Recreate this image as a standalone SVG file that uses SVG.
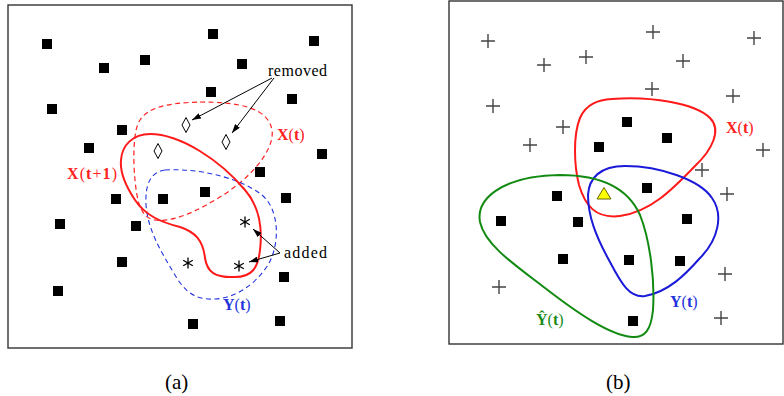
<svg xmlns="http://www.w3.org/2000/svg" width="784" height="396" viewBox="0 0 784 396">
<style>
.frame{fill:#fff;stroke:#333;stroke-width:1.4}
.sq{fill:#000}
.dia{fill:#fff;stroke:#000;stroke-width:1}
.ast{stroke:#000;stroke-width:1.3;fill:none}
.plus{stroke:#444;stroke-width:1.4;fill:none}
.arr{stroke:#000;stroke-width:1;fill:none;marker-end:url(#ah)}
.lbl{font-family:"Liberation Serif",serif;font-size:16px}
.b{font-weight:bold}
.txt{font-family:"Liberation Serif",serif;font-size:16px;fill:#000}
.cap{font-family:"Liberation Serif",serif;font-size:21px;fill:#000}
</style>
<defs>
<marker id="ah" markerWidth="9" markerHeight="6" refX="9" refY="3" orient="auto" markerUnits="userSpaceOnUse"><path d="M0,0 L9,3 L0,6 z" fill="#000"/></marker>
<rect id="s" x="-5" y="-5" width="10" height="10"/>
<path id="p" d="M-7,0 H7 M0,-7 V7"/>
<path id="a" d="M0,-5.5 V5.5 M-4.8,-2.75 L4.8,2.75 M-4.8,2.75 L4.8,-2.75"/>
</defs>
<rect class="frame" x="8" y="5" width="344" height="343"/>
<rect class="frame" x="449" y="1" width="334" height="343"/>
<g id="left-points" class="sq">
<use href="#s" x="47" y="44"/><use href="#s" x="104" y="68"/><use href="#s" x="145" y="60"/>
<use href="#s" x="213" y="34"/><use href="#s" x="314" y="41"/><use href="#s" x="242" y="64"/>
<use href="#s" x="52" y="109"/><use href="#s" x="211" y="92"/><use href="#s" x="292" y="99"/>
<use href="#s" x="122" y="130"/><use href="#s" x="89" y="148"/><use href="#s" x="322" y="154"/>
<use href="#s" x="260" y="172"/><use href="#s" x="116" y="199"/><use href="#s" x="163" y="199"/>
<use href="#s" x="205" y="192"/><use href="#s" x="286" y="198"/><use href="#s" x="60" y="224"/>
<use href="#s" x="136" y="226"/><use href="#s" x="122" y="262"/><use href="#s" x="58" y="291"/>
<use href="#s" x="284" y="277"/><use href="#s" x="193" y="324"/><use href="#s" x="280" y="321"/>
</g>
<g id="removed-points">
<polygon class="dia" points="186,117.5 190,125 186,132.5 182,125"/>
<polygon class="dia" points="226,134.5 230,142 226,149.5 222,142"/>
<polygon class="dia" points="158,143.5 162,151 158,158.5 154,151"/>
</g>
<g id="added-points" class="ast">
<use href="#a" x="245" y="222"/><use href="#a" x="188" y="263"/><use href="#a" x="239" y="266"/>
</g>
<g id="sets-left" fill="none">
<path id="Xt" d="M200,102 C240,102 268,108 272,130 C275,150 250,180 215,200 C190,215 170,222 155,220 C140,218 137,200 135,180 C133,160 133,130 140,120 C148,108 165,103 200,102 Z" stroke="#ff2020" stroke-width="1.2" stroke-dasharray="5,3.5"/>
<path id="Yt" d="M165,170 C200,168 240,178 262,195 C280,210 280,245 268,265 C255,285 235,298 215,299 C195,300 185,292 175,275 C160,250 148,230 146,205 C145,185 150,172 165,170 Z" stroke="#2233dd" stroke-width="1.1" stroke-dasharray="5,3.5"/>
<path id="Xt1" d="M150,134 C180,134 220,160 245,190 C258,205 263,225 260,250 C258,268 252,277 235,277 C215,278 207,272 205,258 C203,240 195,232 180,227 C160,222 145,215 135,200 C125,185 120,170 121,160 C122,145 133,134 150,134 Z" stroke="#ff1a1a" stroke-width="2"/>
</g>
<g id="connectors">
<line class="arr" x1="272" y1="78" x2="192" y2="120"/>
<line class="arr" x1="274" y1="78" x2="232" y2="133"/>
<line class="arr" x1="280" y1="253" x2="253" y2="229"/>
<line class="arr" x1="280" y1="253" x2="249" y2="262"/>
</g>
<g id="labels-left">
<text class="txt" x="268" y="76" textLength="59">removed</text>
<text class="txt" x="284" y="258" textLength="43">added</text>
<text class="lbl" x="277" y="140" fill="#ff2020"><tspan class="b">X</tspan>(<tspan class="b">t</tspan>)</text>
<text class="lbl" x="67" y="179" fill="#ff2020" textLength="50"><tspan class="b">X</tspan>(<tspan class="b">t</tspan>+<tspan class="b">1</tspan>)</text>
<text class="lbl" x="223" y="310" fill="#2233dd"><tspan class="b">Y</tspan>(<tspan class="b">t</tspan>)</text>
</g>
<g id="right-plus" class="plus">
<use href="#p" x="488" y="41"/><use href="#p" x="544" y="65"/><use href="#p" x="586" y="57"/>
<use href="#p" x="493" y="106"/><use href="#p" x="563" y="127"/><use href="#p" x="530" y="145"/>
<use href="#p" x="653" y="32"/><use href="#p" x="754" y="38"/><use href="#p" x="683" y="61"/>
<use href="#p" x="652" y="89"/><use href="#p" x="733" y="96"/><use href="#p" x="763" y="150"/>
<use href="#p" x="702" y="170"/><use href="#p" x="727" y="194"/><use href="#p" x="725" y="274"/>
<use href="#p" x="721" y="318"/><use href="#p" x="499" y="287"/>
</g>
<g id="right-points" class="sq">
<use href="#s" x="599" y="147"/><use href="#s" x="627" y="122"/><use href="#s" x="667" y="138"/>
<use href="#s" x="647" y="188"/><use href="#s" x="557" y="196"/><use href="#s" x="501" y="221"/>
<use href="#s" x="578" y="222"/><use href="#s" x="687" y="219"/><use href="#s" x="563" y="259"/>
<use href="#s" x="629" y="260"/><use href="#s" x="680" y="261"/><use href="#s" x="633" y="321"/>
</g>
<g id="sets-right" fill="none" stroke-width="2">
<path id="Xr" d="M612,99 C650,96 695,103 710,118 C722,130 712,150 695,166 C672,190 650,212 620,216 C595,219 585,205 579,185 C574,165 573,135 580,118 C586,104 598,100 612,99 Z" stroke="#ff1a1a"/>
<path id="Yr" d="M625,166 C660,166 700,180 712,198 C724,215 718,240 700,258 C685,275 668,292 645,296 C630,298 622,285 610,262 C595,235 588,215 588,195 C589,178 600,166 625,166 Z" stroke="#1a1ad8"/>
<path id="Yh" d="M560,175 C600,175 628,188 640,215 C650,240 655,280 653,310 C651,330 645,338 632,337 C610,335 580,315 545,288 C515,265 485,245 480,222 C476,200 500,176 560,175 Z" stroke="#128a12"/>
</g>
<g id="query">
<polygon points="604,187.5 611,199 597,199" fill="#ffff00" stroke="#666600" stroke-width="1"/>
</g>
<g id="labels-right">
<text class="lbl" x="726" y="133" fill="#ff2020"><tspan class="b">X</tspan>(<tspan class="b">t</tspan>)</text>
<text class="lbl" x="670" y="307" fill="#2233dd"><tspan class="b">Y</tspan>(<tspan class="b">t</tspan>)</text>
<text class="lbl" x="536" y="325" fill="#1a8a1a"><tspan class="b">Ŷ</tspan>(<tspan class="b">t</tspan>)</text>
</g>
<text class="cap" x="165" y="389">(a)</text>
<text class="cap" x="606" y="389">(b)</text>
</svg>
